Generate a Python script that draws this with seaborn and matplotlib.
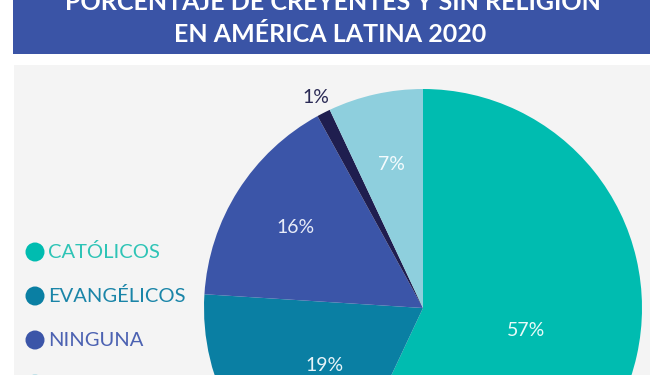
import numpy as np
import matplotlib
matplotlib.use("Agg")
import matplotlib.pyplot as plt
import seaborn as sns
from matplotlib.patches import Rectangle, Circle

# ---- data ----
categories = ["Católicos", "Evangélicos", "Ninguna", "Otra religión", "No sabe / No contesta"]
values = [57, 19, 16, 1, 7]
pct_labels = ["57%", "19%", "16%", "1%", "7%"]
legend_labels = ["CATÓLICOS", "EVANGÉLICOS", "NINGUNA", "NO SABE / NO CONTESTA", "OTRA RELIGIÓN"]
legend_idx = [0, 1, 2, 4, 3]
title_lines = ["PORCENTAJE DE CREYENTES Y SIN RELIGIÓN", "EN AMÉRICA LATINA 2020"]

# ---- style ----
slice_colors = sns.color_palette(["#00bcb0", "#0a7fa3", "#3b55a8", "#1f1e4f", "#8ecfdd"])
legend_text_colors = ["#2ec4b6", "#1a85a8", "#4c62b2", "#8ecfdd", "#1f1e4f"]
label_radius = [0.48, 0.52, 0.69, 1.08, 0.67]
label_colors = ["#e8fbf9", "#e8f4f8", "#e8ecf8", "#2a2a55", "#f4fbfd"]

sns.set_theme(style="white")
plt.rcParams["font.family"] = ["Lato", "DejaVu Sans"]

W, H = 667, 375
fig = plt.figure(figsize=(W / 100, H / 100), dpi=100)
fig.patch.set_facecolor("white")

# background axes in pixel coordinates (y from top)
bg = fig.add_axes([0, 0, 1, 1])
bg.set_xlim(0, W)
bg.set_ylim(H, 0)
bg.axis("off")
bg.add_patch(Rectangle((14, 65), 636, 320, facecolor="#f4f4f4", edgecolor="none"))
bg.add_patch(Rectangle((13, -10), 637, 64, facecolor="#3a54a6", edgecolor="none"))
bg.text(333, 2, title_lines[0], color="white", fontsize=18, fontweight="bold",
        ha="center", va="center")
bg.text(330, 34.5, title_lines[1], color="white", fontsize=18, fontweight="bold",
        ha="center", va="center")

# legend
for row, i in enumerate(legend_idx):
    y = 252 + row * 44
    bg.add_patch(Circle((35, y), 9.5, facecolor=slice_colors[i], edgecolor="none"))
    bg.text(48, y + 0.5, legend_labels[row], color=legend_text_colors[row], fontsize=14.5,
            fontweight="normal", ha="left", va="center")

# pie axes
cx, cy, r = 423, 308, 219
ax = fig.add_axes([(cx - r) / W, (H - cy - r) / H, 2 * r / W, 2 * r / H])
wedges, _ = ax.pie(values, colors=slice_colors, startangle=90, counterclock=False,
                   radius=1, wedgeprops=dict(linewidth=0))
ax.set_xlim(-1, 1)
ax.set_ylim(-1, 1)
ax.set_aspect("equal")
ax.axis("off")
for w, lab, rr, c in zip(wedges, pct_labels, label_radius, label_colors):
    ang = np.deg2rad((w.theta1 + w.theta2) / 2)
    ax.text(rr * np.cos(ang), rr * np.sin(ang), lab, color=c, fontsize=14,
            fontweight="normal", ha="center", va="center", clip_on=False)

fig.savefig("out.png", dpi=100)
